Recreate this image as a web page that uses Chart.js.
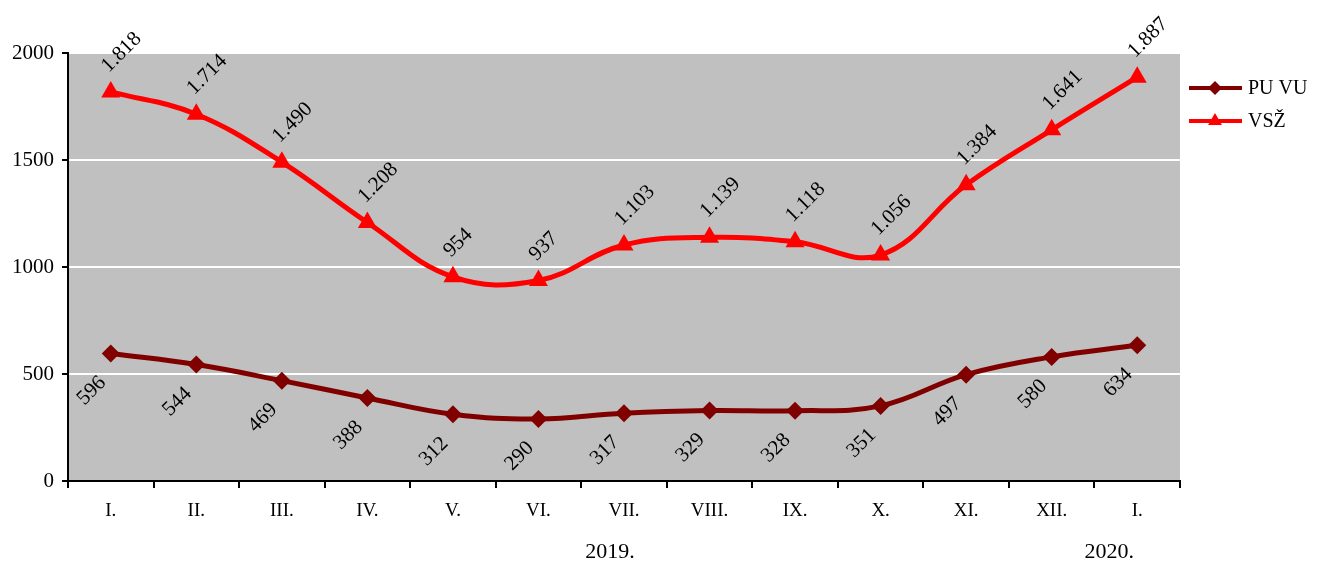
<!DOCTYPE html>
<html>
<head>
<meta charset="utf-8">
<script src="https://cdn.jsdelivr.net/npm/chart.js@4.4.1/dist/chart.umd.min.js"></script>
<style>
  html, body { margin: 0; padding: 0; background: #fff; }
  #wrap { width: 1324px; height: 565px; position: relative; }
</style>
</head>
<body>
<div id="wrap"><canvas id="chart"></canvas></div>
<script>
const months = ['I.', 'II.', 'III.', 'IV.', 'V.', 'VI.', 'VII.', 'VIII.', 'IX.', 'X.', 'XI.', 'XII.', 'I.'];
const puVu = [596, 544, 469, 388, 312, 290, 317, 329, 328, 351, 497, 580, 634];
const vsz = [1818, 1714, 1490, 1208, 954, 937, 1103, 1139, 1118, 1056, 1384, 1641, 1887];
const yearLabels = [{ index: 6, text: '2019.', shift: -14 }, { index: 12, text: '2020.', shift: -28 }];

const FONT = '"Liberation Serif", "Times New Roman", serif';
const fmt = v => v >= 1000 ? Math.floor(v / 1000) + '.' + String(v % 1000).padStart(3, '0') : String(v);

// gray plot background
const bgPlugin = {
  id: 'bg',
  beforeDraw(chart) {
    const a = chart.chartArea, c = chart.ctx;
    c.save();
    c.fillStyle = '#C0C0C0';
    c.fillRect(a.left, a.top, a.right - a.left, a.bottom - a.top);
    c.restore();
  }
};

// rotated value labels, years and legend
const labelPlugin = {
  id: 'labels',
  afterDraw(chart) {
    const c = chart.ctx;
    c.save();
    c.font = '21px ' + FONT;
    c.fillStyle = '#000';
    c.textBaseline = 'alphabetic';
    chart.data.datasets.forEach((ds, di) => {
      chart.getDatasetMeta(di).data.forEach((pt, i) => {
        c.save();
        if (di === 1) {
          c.translate(pt.x - 2, pt.y - 19);
          c.textAlign = 'left';
        } else {
          c.translate(pt.x - 4, pt.y + 30);
          c.textAlign = 'right';
        }
        c.rotate(-Math.PI / 4);
        c.fillText(fmt(ds.data[i]), 0, 0);
        c.restore();
      });
    });
    // years
    const xs = chart.scales.x;
    c.font = '22px ' + FONT;
    c.textAlign = 'center';
    c.textBaseline = 'middle';
    yearLabels.forEach(y => {
      c.fillText(y.text, xs.getPixelForValue(y.index) + y.shift, 552);
    });
    // legend
    c.font = '20px ' + FONT;
    const items = [
      { label: 'PU VU', color: '#800000', style: 'rectRot', r: 7 },
      { label: 'VSŽ', color: '#FF0000', style: 'triangle', r: 8 }
    ];
    items.forEach((it, k) => {
      const y = 88 + k * 33;
      c.strokeStyle = it.color;
      c.lineWidth = 4;
      c.beginPath();
      c.moveTo(1189, y);
      c.lineTo(1242, y);
      c.stroke();
      c.fillStyle = it.color;
      Chart.helpers.drawPoint(c, { pointStyle: it.style, radius: it.r, borderWidth: 0 }, 1215, y);
      c.fillStyle = '#000';
      c.textAlign = 'left';
      c.fillText(it.label, 1248, y + 1);
    });
    c.restore();
  }
};

new Chart(document.getElementById('chart'), {
  type: 'line',
  data: {
    labels: months,
    datasets: [
      {
        label: 'PU VU', data: puVu,
        borderColor: '#800000', backgroundColor: '#800000',
        borderWidth: 5, tension: 0.4,
        pointStyle: 'rectRot', pointRadius: 9, pointBorderWidth: 0
      },
      {
        label: 'VSŽ', data: vsz,
        borderColor: '#FF0000', backgroundColor: '#FF0000',
        borderWidth: 5, tension: 0.4,
        pointStyle: 'triangle', pointRadius: 11, pointBorderWidth: 0
      }
    ]
  },
  options: {
    responsive: true,
    maintainAspectRatio: false,
    animation: false,
    layout: { padding: { top: 53, right: 144, left: 0, bottom: 0 } },
    plugins: { legend: { display: false }, tooltip: { enabled: false } },
    scales: {
      x: {
        offset: true,
        afterFit(s) { s.height = 84; },
        grid: { offset: true, drawOnChartArea: false, tickColor: '#000', tickLength: 7, lineWidth: 2 },
        border: { color: '#000', width: 2 },
        ticks: { color: '#000', font: { family: FONT, size: 19 }, padding: 12, maxRotation: 0 }
      },
      y: {
        min: 0, max: 2000,
        afterFit(s) { s.width = 68; },
        grid: { color: '#FFFFFF', lineWidth: 2, tickColor: '#000', tickLength: 6 },
        border: { color: '#000', width: 2 },
        ticks: { stepSize: 500, color: '#000', font: { family: FONT, size: 21 }, padding: 8,
                 callback: v => String(v) }
      }
    }
  },
  plugins: [bgPlugin, labelPlugin]
});
</script>
</body>
</html>
